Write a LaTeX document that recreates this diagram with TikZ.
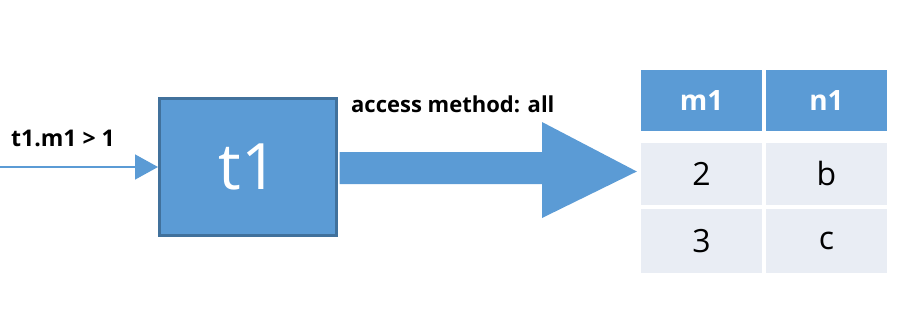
\documentclass[tikz,border=0pt]{standalone}
\usepackage{fontspec}
\setmainfont{Open Sans}
\usetikzlibrary{arrows.meta,calc}
\definecolor{blu}{HTML}{5B9BD5}
\definecolor{bluedge}{HTML}{41719C}
\definecolor{rowfill}{HTML}{E9EDF4}
\begin{document}
\begin{tikzpicture}[x=1pt,y=-1pt,
  hcell/.style={fill=blu,text=white,minimum width=121pt,minimum height=61pt,inner sep=0pt,font=\bfseries\fontsize{28}{30}\selectfont},
  bcell/.style={fill=rowfill,text=black,minimum width=121pt,minimum height=62pt,inner sep=0pt,font=\fontsize{32}{34}\selectfont},
  lbl/.style={font=\bfseries\fontsize{22}{24}\selectfont,inner sep=0pt,anchor=west},
  thin/.style={draw=blu,line width=1.5pt,-{Triangle[length=23pt,width=25pt]}}]
\path[use as bounding box] (0,0) rectangle (920,324);
% source box
\node[draw=bluedge,line width=3pt,fill=blu,text=white,minimum width=177pt,minimum height=137pt,inner sep=0pt,font=\fontsize{64}{68}\selectfont] (t1) at (248,167) {t1};
% input
\coordinate (src) at (0,167);
\draw[thin] (src) -- (t1.west);
\node[lbl,font=\bfseries\fontsize{23}{25}\selectfont] (cond) at (11,138) {t1.m1 > 1};
% table
\node[hcell] (h1) at (701.5,100.5) {m1};
\node[hcell] (h2) at (826.5,100.5) {n1};
\node[bcell] (a1) at (701.5,173.5) {2};
\node[bcell] (b1) at (826.5,173.5) {b};
\node[bcell,minimum height=64pt] (a2) at (701.5,241) {3};
\node[bcell,minimum height=64pt] (b2) at (826.5,241) {c};
% big arrow
\coordinate (tip) at ($(a1.west)+(-4,-2)$);
\fill[blu] ($(t1.east)+(1.5,-15)$) -- (542,152) -- (542,122) -- (tip) -- (542,218) -- (542,184) -- ($(t1.east)+(1.5,17)$) -- cycle;
\node[lbl] (acc) at (351,104) {access method: all};
\end{tikzpicture}
\end{document}
